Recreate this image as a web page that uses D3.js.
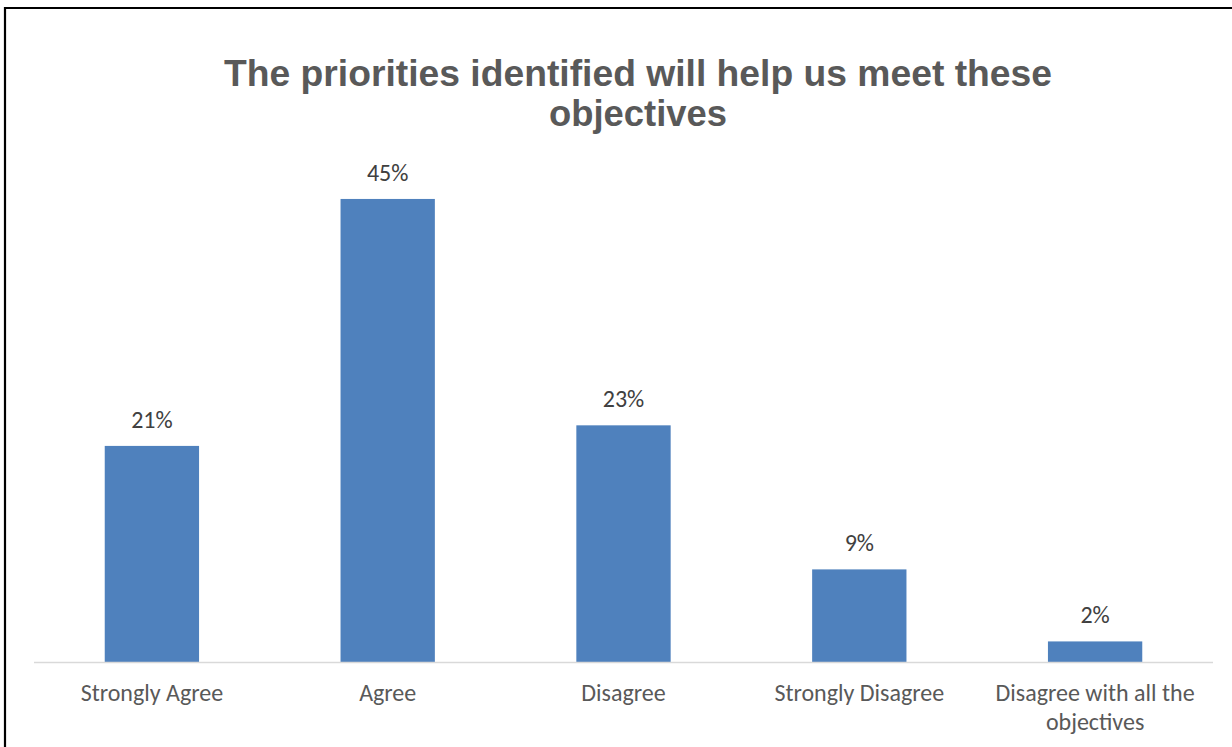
<!DOCTYPE html>
<html>
<head>
<meta charset="utf-8">
<script src="https://cdn.jsdelivr.net/npm/d3@7"></script>
<style>
  html, body { margin: 0; padding: 0; background: #ffffff; }
  svg { display: block; }
</style>
</head>
<body>
<svg id="chart" width="1232" height="747"></svg>
<script>
// Survey responses
const categories = ["Strongly Agree", "Agree", "Disagree", "Strongly Disagree", "Disagree with all the objectives"];
const values = [0.21, 0.45, 0.23, 0.09, 0.02];
const valueLabels = ["21%", "45%", "23%", "9%", "2%"];
const titleLines = ["The priorities identified will help us meet these", "objectives"];

const W = 1232, H = 747;
const svg = d3.select("#chart");

// Frame around the chart
svg.append("path")
  .attr("d", `M5,${H + 5} V8 H${W + 5}`)
  .attr("fill", "none")
  .attr("stroke", "#000")
  .attr("stroke-width", 2.2);

// Plot area
const left = 34, right = 1213, baseY = 662;
const x = d3.scaleBand()
  .domain(categories)
  .range([left, right])
  .paddingInner(0.6)
  .paddingOuter(0.3);

const y = d3.scaleLinear()
  .domain([0, 0.5])
  .range([baseY, baseY - 514.5]);

// Title
const title = svg.append("g");
const titleMeta = [
  { text: titleLines[0], yPos: 86, len: 828 },
  { text: titleLines[1], yPos: 126, len: 178 }
];
titleMeta.forEach(t => {
  title.append("text")
    .attr("x", 638)
    .attr("y", t.yPos)
    .attr("text-anchor", "middle")
    .attr("textLength", t.len)
    .attr("lengthAdjust", "spacingAndGlyphs")
    .attr("font-family", "'Liberation Sans', Arial, sans-serif")
    .attr("font-weight", "bold")
    .attr("font-size", 37)
    .attr("fill", "#595959")
    .text(t.text);
});

// Bars
svg.append("g")
  .selectAll("rect")
  .data(categories)
  .join("rect")
  .attr("x", d => x(d))
  .attr("width", x.bandwidth())
  .attr("y", (d, i) => y(values[i]))
  .attr("height", (d, i) => y(0) - y(values[i]))
  .attr("fill", "#4F81BD");

// Category axis
const axis = svg.append("g")
  .attr("transform", `translate(0,${baseY})`)
  .call(d3.axisBottom(x).tickSize(0).tickFormat(""));
axis.select(".domain")
  .attr("d", `M${left},0.5H${right}`)
  .attr("stroke", "#d9d9d9")
  .attr("stroke-width", 1.5);

// Category labels, wrapped where needed
const labelFont = "Carlito, Calibri, Lato, 'Open Sans', sans-serif";
const wrapLines = {
  "Disagree with all the objectives": ["Disagree with all the", "objectives"]
};
svg.append("g")
  .selectAll("text")
  .data(categories)
  .join("text")
  .attr("text-anchor", "middle")
  .attr("font-family", labelFont)
  .attr("font-size", 24)
  .attr("fill", "#595959")
  .each(function (d) {
    const lines = wrapLines[d] || [d];
    const t = d3.select(this);
    lines.forEach((ln, k) => {
      t.append("tspan")
        .attr("x", x(d) + x.bandwidth() / 2)
        .attr("y", baseY + 39 + k * 29)
        .text(ln);
    });
  });

// Value labels above each bar
svg.append("g")
  .selectAll("text")
  .data(categories)
  .join("text")
  .attr("x", d => x(d) + x.bandwidth() / 2)
  .attr("y", (d, i) => y(values[i]) - 18)
  .attr("text-anchor", "middle")
  .attr("font-family", labelFont)
  .attr("font-size", 24)
  .attr("fill", "#404040")
  .text((d, i) => valueLabels[i]);
</script>
</body>
</html>
